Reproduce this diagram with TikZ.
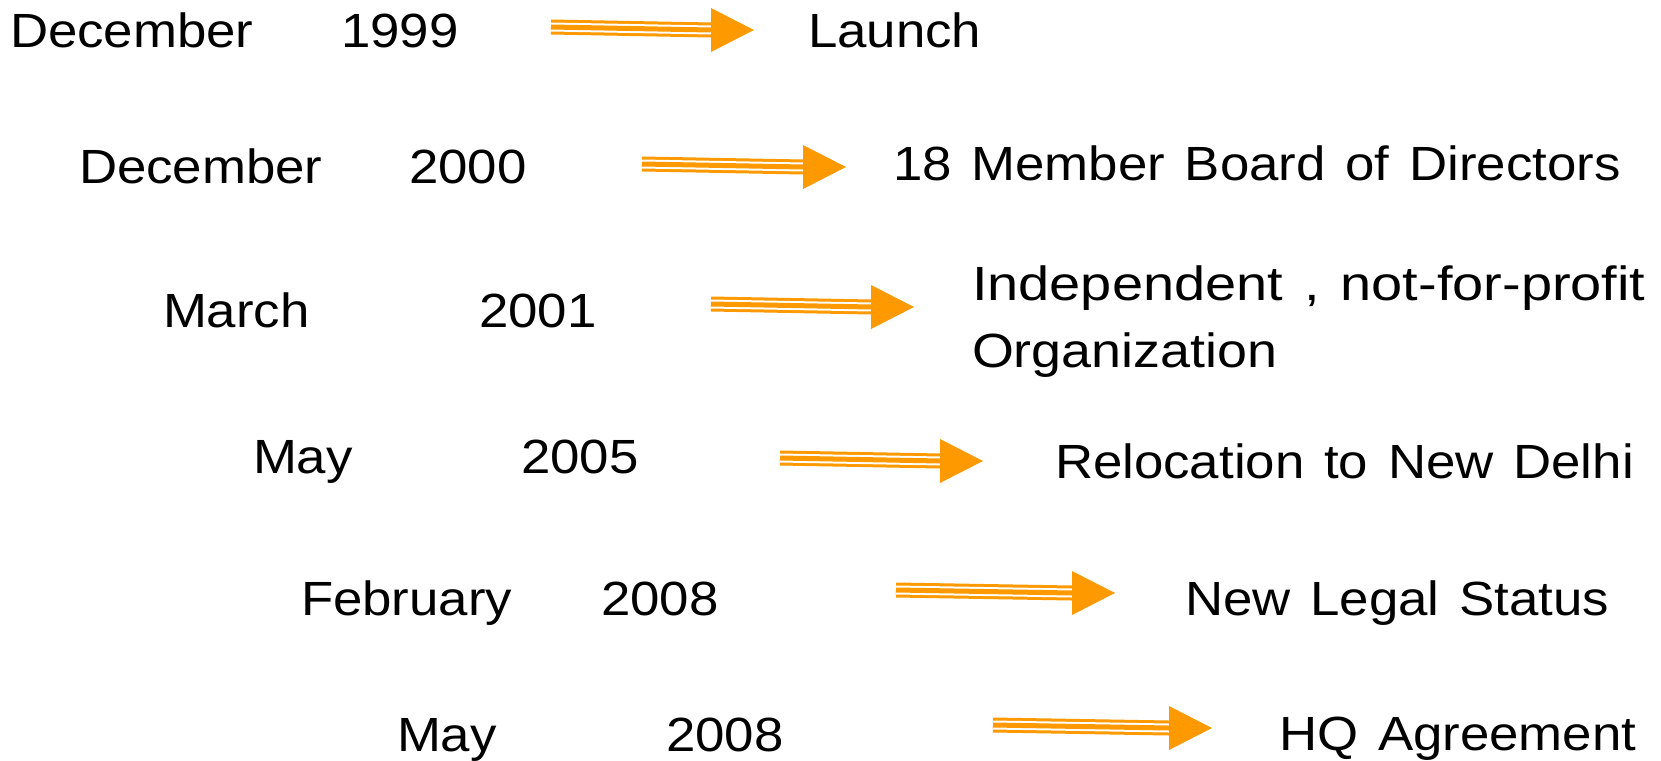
\documentclass[tikz,border=0pt]{standalone}
\usepackage{fontspec}
\setmainfont{Liberation Sans}[FakeStretch=1.1, WordSpace=1.35]
\usetikzlibrary{calc}
\definecolor{arrowc}{RGB}{255,153,0}
\tikzset{
  lbl/.style={anchor=base west, inner sep=0pt, outer sep=0pt, text=black,
    font=\fontsize{48}{67}\selectfont},
}
\newcommand{\stripearrow}[2]{%
  \draw[arrowc, line width=15pt] (#1) -- (#2);
  \draw[white, line width=9pt] (#1) -- (#2);
  \draw[arrowc, line width=5pt] (#1) -- (#2);
  \fill[arrowc] ($(#2)+(0,-22)$) -- ($(#2)+(43,0)$) -- ($(#2)+(0,22)$) -- cycle;
}
\begin{document}
\begin{tikzpicture}[x=1pt, y=-1pt]
\useasboundingbox[fill=white] (0,0) rectangle (1661,760);
% row 1
\node[lbl] (m1) at (10,48) {December};
\node[lbl] (y1) at (341,48) {1999};
\node[lbl] (e1) at (808,48) {Launch};
\coordinate (a1s) at (551,27); \coordinate (a1e) at (711,30);
\stripearrow{a1s}{a1e}
% row 2
\node[lbl] (m2) at (79,183) {December};
\node[lbl] (y2) at (409,183) {2000};
\node[lbl] (e2) at (893,180) {18 Member Board of Directors};
\coordinate (a2s) at (642,164); \coordinate (a2e) at (803,167);
\stripearrow{a2s}{a2e}
% row 3
\node[lbl] (m3) at (163,327) {March};
\node[lbl] (y3) at (479,327) {2001};
\node[lbl] (e3) at (972,300) {\scalebox{1.06}[1]{Independent , not-for-profit}};
\node[lbl] (e3b) at (972,367) {\scalebox{1.02}[1]{Organization}};
\coordinate (a3s) at (711,304); \coordinate (a3e) at (871,307);
\stripearrow{a3s}{a3e}
% row 4
\node[lbl] (m4) at (253,473) {May};
\node[lbl] (y4) at (521,473) {2005};
\node[lbl] (e4) at (1055,478) {Relocation to New Delhi};
\coordinate (a4s) at (780,458); \coordinate (a4e) at (940,461);
\stripearrow{a4s}{a4e}
% row 5
\node[lbl] (m5) at (301,615) {February};
\node[lbl] (y5) at (601,615) {2008};
\node[lbl] (e5) at (1185,615) {New Legal Status};
\coordinate (a5s) at (896,590); \coordinate (a5e) at (1072,593);
\stripearrow{a5s}{a5e}
% row 6
\node[lbl] (m6) at (397,751) {May};
\node[lbl] (y6) at (666,751) {2008};
\node[lbl] (e6) at (1279,750) {HQ Agreement};
\coordinate (a6s) at (993,725); \coordinate (a6e) at (1169,728);
\stripearrow{a6s}{a6e}
\end{tikzpicture}
\end{document}
